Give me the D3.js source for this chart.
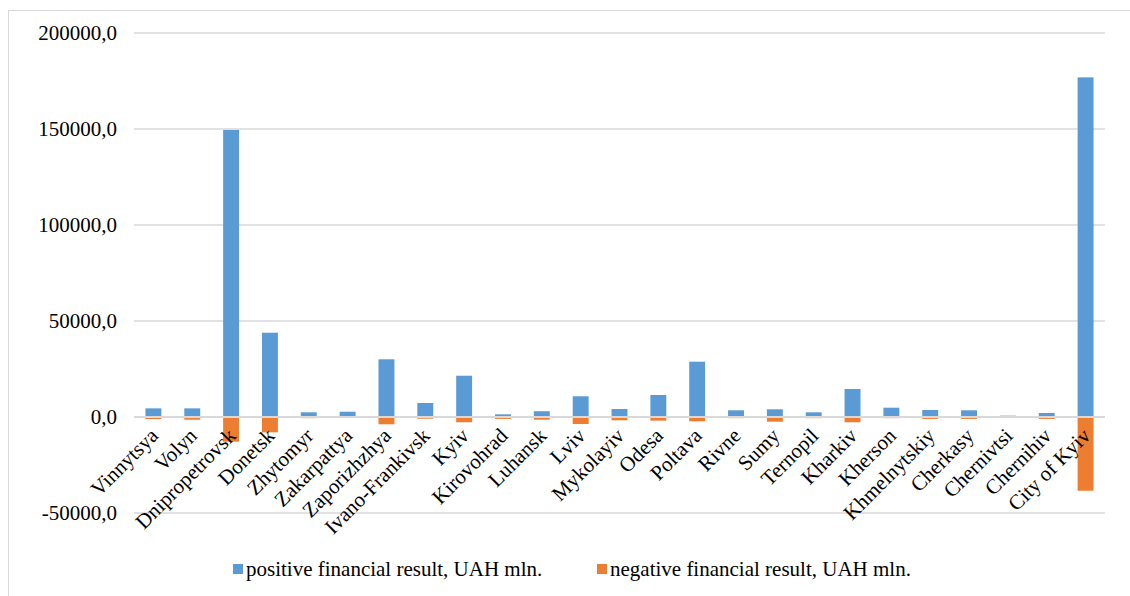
<!DOCTYPE html>
<html>
<head>
<meta charset="utf-8">
<script src="https://cdn.jsdelivr.net/npm/d3@7"></script>
<style>
  html, body { margin: 0; padding: 0; background: #fff; }
  svg text { font-family: "Liberation Serif", "Times New Roman", Times, "DejaVu Serif", serif; }
</style>
</head>
<body>
<svg id="chart" width="1130" height="596"></svg>
<script>
// Regions of Ukraine
const categories = [
  "Vinnytsya", "Volyn", "Dnipropetrovsk", "Donetsk", "Zhytomyr", "Zakarpattya",
  "Zaporizhzhya", "Ivano-Frankivsk", "Kyiv", "Kirovohrad", "Luhansk", "Lviv",
  "Mykolayiv", "Odesa", "Poltava", "Rivne", "Sumy", "Ternopil", "Kharkiv",
  "Kherson", "Khmelnytskiy", "Cherkasy", "Chernivtsi", "Chernihiv", "City of Kyiv"
];

// Positive financial result, UAH mln.
const positive = [
  4500, 4500, 149500, 43900, 2450, 2750,
  30050, 7300, 21500, 1400, 3000, 10800,
  4150, 11450, 28800, 3500, 4000, 2450, 14600,
  4850, 3650, 3500, 700, 2100, 176900
];

// Negative financial result, UAH mln.
const negative = [
  -1100, -1400, -12850, -8000, -600, -200,
  -3800, -900, -2750, -1000, -1400, -3650,
  -1700, -1900, -2250, -600, -2450, -600, -2750,
  -600, -1000, -1000, -500, -1000, -38400
];

const yTicks = [-50000, 0, 50000, 100000, 150000, 200000];

const seriesNames = ["positive financial result, UAH mln.", "negative financial result, UAH mln."];
const seriesColors = ["#5b9bd5", "#ed7d31"];

const FONT = '"Liberation Serif", "Times New Roman", Times, "DejaVu Serif", serif';

const svg = d3.select("#chart");

// outer chart frame
svg.append("rect")
  .attr("x", 8.5).attr("y", 10.5)
  .attr("width", 1140).attr("height", 620)
  .attr("fill", "none").attr("stroke", "#d9d9d9").attr("stroke-width", 1);

const x = d3.scaleBand()
  .domain(categories)
  .range([134, 1105])
  .paddingInner(0.59)
  .paddingOuter(0.295);

const y = d3.scaleLinear()
  .domain([-50000, 200000])
  .range([513, 33]);

const locale = d3.formatLocale({ decimal: ",", thousands: "", grouping: [3], currency: ["", ""], minus: "-" });
const fmt = locale.format(".1f");

// gridlines
svg.append("g")
  .selectAll("line")
  .data(yTicks)
  .join("line")
  .attr("x1", 134).attr("x2", 1105)
  .attr("y1", d => y(d)).attr("y2", d => y(d))
  .attr("stroke", "#d9d9d9")
  .attr("stroke-width", 1.3);

// y-axis labels
const yAxis = d3.axisLeft(y).tickValues(yTicks).tickFormat(fmt).tickSize(0).tickPadding(0);
const gy = svg.append("g").attr("transform", "translate(117,0)").call(yAxis);
gy.attr("font-family", null).attr("font-size", null);
gy.select(".domain").remove();
gy.selectAll("text")
  .style("font-family", FONT)
  .style("font-size", "21px")
  .attr("fill", "#000")
  .attr("dy", "0.32em");

// bars
const bars = svg.append("g");
bars.selectAll("rect.pos")
  .data(categories)
  .join("rect")
  .attr("class", "pos")
  .attr("x", d => x(d))
  .attr("width", x.bandwidth())
  .attr("y", (d, i) => y(positive[i]))
  .attr("height", (d, i) => y(0) - y(positive[i]))
  .attr("fill", seriesColors[0]);

bars.selectAll("rect.neg")
  .data(categories)
  .join("rect")
  .attr("class", "neg")
  .attr("x", d => x(d))
  .attr("width", x.bandwidth())
  .attr("y", y(0))
  .attr("height", (d, i) => y(negative[i]) - y(0))
  .attr("fill", seriesColors[1]);

// zero axis line on top
svg.append("line")
  .attr("x1", 134).attr("x2", 1105)
  .attr("y1", y(0)).attr("y2", y(0))
  .attr("stroke", "#d9d9d9")
  .attr("stroke-width", 2);

// category labels, rotated
const xAxis = d3.axisBottom(x).tickSize(0).tickPadding(0);
const gx = svg.append("g").call(xAxis);
gx.attr("font-family", null).attr("font-size", null);
gx.select(".domain").remove();
gx.selectAll(".tick").attr("transform", d => `translate(${x(d) + x.bandwidth() / 2 + 6},437)`);
gx.selectAll("text")
  .style("font-family", FONT)
  .style("font-size", "21px")
  .attr("fill", "#000")
  .attr("y", 0).attr("dy", 0)
  .attr("text-anchor", "end")
  .attr("transform", "rotate(-45)");

// legend
const legendX = [233, 597];
const lg = svg.append("g")
  .selectAll("g")
  .data(seriesNames)
  .join("g")
  .attr("transform", (d, i) => `translate(${legendX[i]},564)`);
lg.append("rect")
  .attr("width", 10).attr("height", 10)
  .attr("fill", (d, i) => seriesColors[i]);
lg.append("text")
  .attr("x", 13).attr("y", 12)
  .style("font-family", FONT)
  .style("font-size", "21px")
  .attr("fill", "#000")
  .text(d => d);
</script>
</body>
</html>
